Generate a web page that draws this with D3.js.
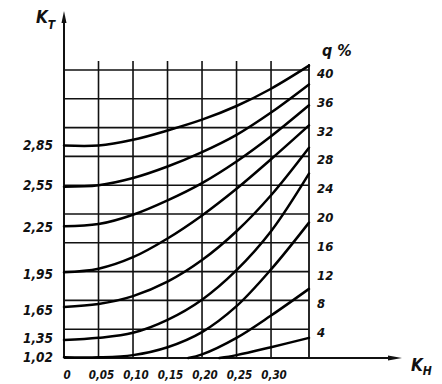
<!DOCTYPE html>
<html>
<head>
<meta charset="utf-8">
<script src="https://cdn.jsdelivr.net/npm/d3@7"></script>
<style>
  html, body { margin: 0; padding: 0; background: #fff; }
  svg { display: block; }
  text { font-family: "DejaVu Sans Condensed", "DejaVu Sans", sans-serif; font-style: italic; font-weight: bold; fill: #111; }
</style>
</head>
<body>
<svg id="chart" width="442" height="384"></svg>
<script>
// ---- data ----
const xTicks = [0, 0.05, 0.10, 0.15, 0.20, 0.25, 0.30];
const xTickLabels = ["0", "0,05", "0,10", "0,15", "0,20", "0,25", "0,30"];
const xMax = 0.355;
const qTicks = [4, 8, 12, 16, 20, 24, 28, 32, 36, 40];
const qMax = 40;
// left labels: K_T value and where it sits (in grid units)
const ktLabels = ["2,85", "2,55", "2,25", "1,95", "1,65", "1,35", "1,02"];
const ktLabelPos = [29.6, 24.0, 18.2, 11.7, 6.6, 2.8, 0.15];
// curves: [K_H, grid units]
const curve1 = [[0, 29.5], [0.05, 29.5], [0.10, 30.3], [0.15, 31.6], [0.20, 33.1], [0.25, 35.0], [0.30, 37.4], [0.355, 40.6]];
const curve2 = [[0, 23.8], [0.05, 24.0], [0.10, 25.0], [0.15, 26.6], [0.20, 28.6], [0.25, 31.0], [0.30, 34.1], [0.355, 38.0]];
const curve3 = [[0, 18.3], [0.05, 18.6], [0.10, 19.9], [0.15, 21.9], [0.20, 24.3], [0.25, 27.3], [0.30, 30.8], [0.355, 35.1]];
const curve4 = [[0, 11.9], [0.05, 12.4], [0.10, 14.0], [0.15, 16.6], [0.20, 19.8], [0.25, 23.5], [0.30, 27.6], [0.355, 32.3]];
const curve5 = [[0, 7.1], [0.05, 7.5], [0.10, 8.6], [0.15, 10.6], [0.20, 13.6], [0.25, 17.6], [0.30, 22.6], [0.355, 29.2]];
const curve6 = [[0, 2.5], [0.05, 2.8], [0.10, 3.5], [0.15, 5.3], [0.20, 8.1], [0.25, 12.2], [0.30, 17.6], [0.355, 25.6]];
const curve7 = [[0, 0.1], [0.05, 0.1], [0.10, 0.4], [0.15, 1.5], [0.20, 3.6], [0.25, 7.2], [0.30, 12.3], [0.355, 18.8]];
const curve8 = [[0.18, 0], [0.20, 0.5], [0.25, 2.8], [0.30, 5.9], [0.355, 9.6]];
const curve9 = [[0.225, 0], [0.25, 0.4], [0.30, 1.5], [0.355, 2.8]];
const curves = [curve1, curve2, curve3, curve4, curve5, curve6, curve7, curve8, curve9];

// ---- layout ----
const svg = d3.select("#chart");
const x = d3.scaleLinear().domain([0, xMax]).range([64, 309]);
const y = d3.scaleLinear().domain([0, qMax]).range([358, 70]);

const g = svg.append("g");

// horizontal grid lines
g.selectAll("line.h").data(qTicks).join("line")
  .attr("x1", x(0)).attr("x2", x(xMax))
  .attr("y1", d => y(d)).attr("y2", d => y(d))
  .attr("stroke", "#111").attr("stroke-width", 1.6);

// vertical grid lines
g.selectAll("line.v").data(xTicks.slice(1)).join("line")
  .attr("x1", d => x(d)).attr("x2", d => x(d))
  .attr("y1", y(0)).attr("y2", y(qMax) - 9)
  .attr("stroke", "#111").attr("stroke-width", 1.6);

// right edge
g.append("line")
  .attr("x1", x(xMax)).attr("x2", x(xMax))
  .attr("y1", y(0)).attr("y2", y(qMax) - 6)
  .attr("stroke", "#111").attr("stroke-width", 1.8);

// y axis with arrow
g.append("line")
  .attr("x1", x(0)).attr("x2", x(0))
  .attr("y1", y(0)).attr("y2", 16)
  .attr("stroke", "#111").attr("stroke-width", 2);
g.append("path")
  .attr("d", `M${x(0)},11 L${x(0) - 2.5},23 L${x(0) + 2.5},23 Z`)
  .attr("fill", "#111");

// x axis with arrow
g.append("line")
  .attr("x1", x(0)).attr("x2", 392)
  .attr("y1", y(0)).attr("y2", y(0))
  .attr("stroke", "#111").attr("stroke-width", 2);
g.append("path")
  .attr("d", `M402,${y(0)} L388,${y(0) - 2.5} L388,${y(0) + 2.5} Z`)
  .attr("fill", "#111");

// curves
const line = d3.line().x(d => x(d[0])).y(d => y(d[1])).curve(d3.curveCatmullRom.alpha(0.5));
g.selectAll("path.c").data(curves).join("path")
  .attr("d", line)
  .attr("fill", "none").attr("stroke", "#000").attr("stroke-width", 2.5)
  .attr("stroke-linecap", "round");

// x tick labels
g.selectAll("text.xt").data(xTicks).join("text")
  .attr("x", d => x(d) + 3)
  .attr("y", 379)
  .attr("text-anchor", "middle")
  .attr("font-size", 11.5)
  .text((d, i) => xTickLabels[i]);

// right q labels
g.selectAll("text.q").data(qTicks).join("text")
  .attr("x", 317).attr("y", d => y(d) + 8)
  .attr("font-size", 13)
  .attr("font-weight", "normal")
  .text(d => d);

// left K_T labels
g.selectAll("text.kt").data(ktLabels).join("text")
  .attr("x", 53).attr("y", (d, i) => y(ktLabelPos[i]) + 5)
  .attr("text-anchor", "end")
  .attr("font-size", 13.5)
  .text(d => d);

// axis titles
const kt = g.append("text").attr("x", 36).attr("y", 23).attr("font-size", 17).attr("font-weight", "normal");
kt.append("tspan").text("K");
kt.append("tspan").attr("font-size", 12).attr("dy", 6).text("T");
const kh = g.append("text").attr("x", 411).attr("y", 371).attr("font-size", 17).attr("font-weight", "normal");
kh.append("tspan").text("K");
kh.append("tspan").attr("font-size", 12).attr("dy", 4).text("H");
g.append("text").attr("x", 322).attr("y", 56).attr("font-size", 16).attr("font-weight", "normal").text("q %");
</script>
</body>
</html>
